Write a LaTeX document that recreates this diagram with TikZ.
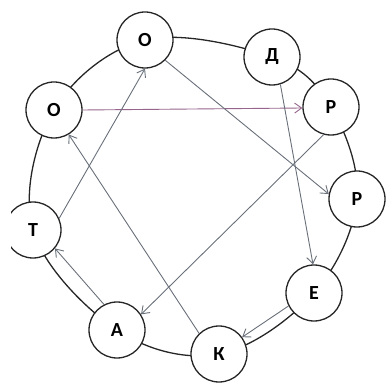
\documentclass[tikz,border=0pt]{standalone}
\usepackage{fontspec}
\setmainfont{Carlito}
\usetikzlibrary{arrows.meta}
\definecolor{arrowc}{RGB}{105,112,122}
\definecolor{arrowp}{RGB}{150,100,140}
\begin{document}
\begin{tikzpicture}[x=1pt,y=-1pt,
  letter/.style={circle,draw=black!85,line width=1.3pt,fill=white,minimum size=56pt,inner sep=0pt,font=\fontsize{20}{20}\selectfont\bfseries},
  ring/.style={draw=black!85,line width=1.3pt},
  link/.style={draw=arrowc,line width=0.9pt,-{Straight Barb[length=7pt,width=10pt]}},
]
\useasboundingbox (0,0) rectangle (388,387);
\clip (11,0) rectangle (388,387);
\draw[ring] plot[smooth cycle,tension=0.6] coordinates {(145,40) (272,57) (331,107) (357,199) (314,293) (219,354) (117,330) (33,230) (54,110)};
\node[letter] (otop) at (145,40) {О};
\node[letter] (d) at (272,57) {Д};
\node[letter] (r1) at (331,107) {Р};
\node[letter] (r2) at (357,199) {Р};
\node[letter] (e) at (314,293) {Е};
\node[letter] (k) at (219,354) {К};
\node[letter] (a) at (117,330) {А};
\node[letter] (t) at (33,230) {Т};
\node[letter] (ol) at (54,110) {О};
\draw[link,draw=arrowp] (ol.0) -- (r1.182);
\draw[link] (otop.-45) -- (r2.170);
\draw[link] (d.-73) -- (e.92);
\draw[link] (r1.-105) -- (a.33);
\draw[link] (e.-153) -- (k.36);
\draw[link] (k.134) -- (ol.-59);
\draw[link] (a.117) -- (t.-40);
\draw[link] (t.24) -- (otop.-90);
\end{tikzpicture}
\end{document}
